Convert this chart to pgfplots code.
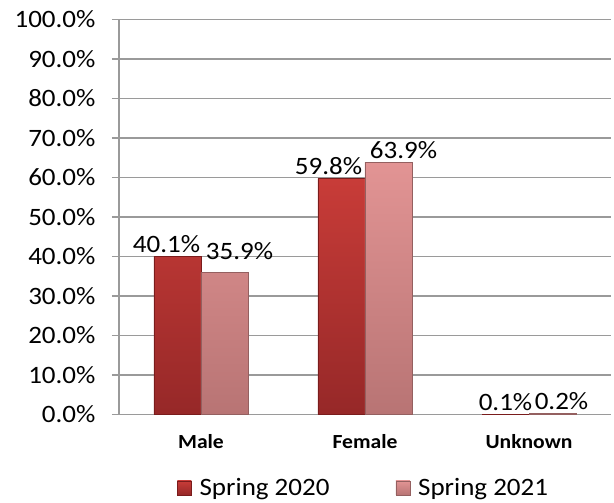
\documentclass[border=0pt]{standalone}
\usepackage{fontspec}
\setmainfont{Carlito}[FakeStretch=1.08]
\usepackage{pgfplots}
\usepackage{pgfplotstable}
\pgfplotsset{compat=1.18}
\definecolor{redTop}{HTML}{C83C38}
\definecolor{redBot}{HTML}{962828}
\definecolor{redEdge}{HTML}{7A1C1C}
\definecolor{pinkTop}{HTML}{E29494}
\definecolor{pinkBot}{HTML}{B87474}
\definecolor{pinkEdge}{HTML}{946060}
\definecolor{gridgray}{HTML}{9A9A9A}
\pgfplotstableread{
x y dx dy
0 40.1 -11 0
1 59.8 -13 0
2 0.1 0 0
}\springA
\pgfplotstableread{
x y dx dy
0 35.9 15 9
1 63.9 15 0
2 0.2 9 0
}\springB
\begin{document}
\begin{tikzpicture}
\useasboundingbox (-119pt,-88.5pt) rectangle (495pt,414.5pt);
\begin{axis}[
 at={(0pt,0pt)}, anchor=south west,
 scale only axis, width=492pt, height=395pt,
 xmin=-0.5, xmax=2.5, ymin=0, ymax=100,
 ybar=0pt, bar width=47pt,
 xtick={0,1,2}, xticklabels={Male,Female,Unknown},
 ytick={0,10,...,100},
 axis x line*=bottom, axis y line*=left,
 axis line style={draw=gridgray, line width=1.5pt, -},
 ymajorgrids, grid style={gridgray, line width=1.5pt},
 major tick length=7pt, tick align=outside,
 xtick style={draw=none},
 ytick style={gridgray, line width=1.5pt},
 /pgf/number format/assume math mode=true,
 yticklabel={\pgfmathprintnumber[fixed,fixed zerofill,precision=1]{\tick}\%},
 ticklabel style={font=\fontsize{25}{30}\selectfont},
 yticklabel style={xshift=-13pt},
 xticklabel style={font=\fontsize{20}{24}\selectfont\bfseries, yshift=-9pt},
 nodes near coords={\pgfmathprintnumber[fixed,fixed zerofill,precision=1]{\pgfplotspointmeta}\%},
 legend style={at={(0.497,-0.186)}, anchor=center, draw=none, legend columns=2,
   font=\fontsize{25}{30}\selectfont,
   /tikz/every even column/.append style={column sep=64pt}},
 legend image code/.code={\draw[#1] (0pt,-7pt) rectangle (14pt,7pt); \path (20pt,0pt);},
]
\addplot[top color=redTop, bottom color=redBot, draw=redEdge, line width=0.6pt,
  visualization depends on={\thisrow{dx} \as \labdx},
  visualization depends on={\thisrow{dy} \as \labdy},
  nodes near coords style={font=\fontsize{25}{30}\selectfont, text=black, xshift=\labdx, yshift=\labdy}]
  table[x=x,y=y] {\springA};
\addplot[top color=pinkTop, bottom color=pinkBot, draw=pinkEdge, line width=0.6pt,
  visualization depends on={\thisrow{dx} \as \labdx},
  visualization depends on={\thisrow{dy} \as \labdy},
  nodes near coords style={font=\fontsize{25}{30}\selectfont, text=black, xshift=\labdx, yshift=\labdy}]
  table[x=x,y=y] {\springB};
\legend{Spring 2020, Spring 2021}
\end{axis}
\end{tikzpicture}
\end{document}
